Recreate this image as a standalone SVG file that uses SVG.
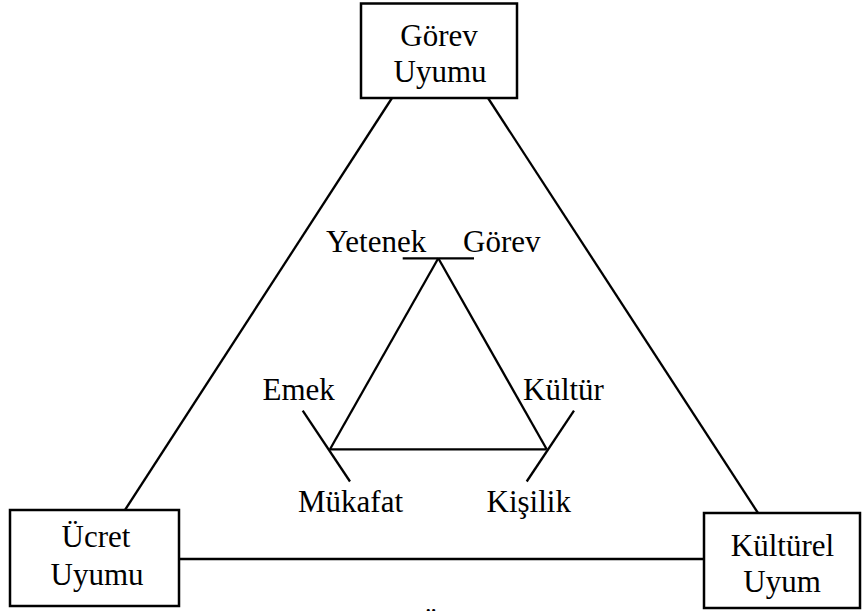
<svg xmlns="http://www.w3.org/2000/svg" width="866" height="611" viewBox="0 0 866 611">
<style>
.ln{stroke:#000;stroke-width:2.3;fill:none}
.box{fill:#fff;stroke:#000;stroke-width:2.5}
</style>
<rect width="866" height="611" fill="#fff"/>
<g id="connectors">
<line class="ln" x1="392" y1="98" x2="125" y2="510"/>
<line class="ln" x1="488" y1="98" x2="758" y2="513"/>
<line class="ln" x1="179" y1="559" x2="704" y2="559"/>
<line class="ln" x1="438.3" y1="258.3" x2="330" y2="449.3"/>
<line class="ln" x1="438.3" y1="258.3" x2="546.7" y2="449.3"/>
<line class="ln" x1="330" y1="449.3" x2="546.7" y2="449.3"/>
<line class="ln" x1="402.7" y1="258.3" x2="474" y2="258.3"/>
<line class="ln" x1="302.7" y1="410.7" x2="350" y2="481.5"/>
<line class="ln" x1="574" y1="410.7" x2="526.7" y2="481.5"/>
</g>
<g id="gorev-uyumu">
<rect class="box" x="361" y="3.5" width="156" height="94.5"/>
<text font-family="Liberation Serif" font-size="31" text-anchor="middle" x="439" y="45.5">Görev</text>
<text font-family="Liberation Serif" font-size="31" text-anchor="middle" x="440" y="81.5">Uyumu</text>
</g>
<g id="ucret-uyumu">
<rect class="box" x="10" y="510" width="169" height="96"/>
<text font-family="Liberation Serif" font-size="31" text-anchor="middle" x="96" y="546.5">Ücret</text>
<text font-family="Liberation Serif" font-size="31" text-anchor="middle" x="97" y="585">Uyumu</text>
</g>
<g id="kulturel-uyum">
<rect class="box" x="704" y="513" width="156" height="95"/>
<text font-family="Liberation Serif" font-size="31" text-anchor="middle" x="782.5" y="556">Kültürel</text>
<text font-family="Liberation Serif" font-size="31" text-anchor="middle" x="782" y="592">Uyum</text>
</g>
<g id="inner-labels">
<text font-family="Liberation Serif" font-size="31" x="326" y="251.5">Yetenek</text>
<text font-family="Liberation Serif" font-size="31" x="463" y="251.5">Görev</text>
<text font-family="Liberation Serif" font-size="31" x="262.5" y="400">Emek</text>
<text font-family="Liberation Serif" font-size="31" x="523" y="400">Kültür</text>
<text font-family="Liberation Serif" font-size="31" x="298" y="511.5">Mükafat</text>
<text font-family="Liberation Serif" font-size="31" x="486.5" y="511.5">Kişilik</text>
</g>
<text font-family="Liberation Serif" font-size="31" text-anchor="middle" x="431" y="635">Ü</text>
</svg>
